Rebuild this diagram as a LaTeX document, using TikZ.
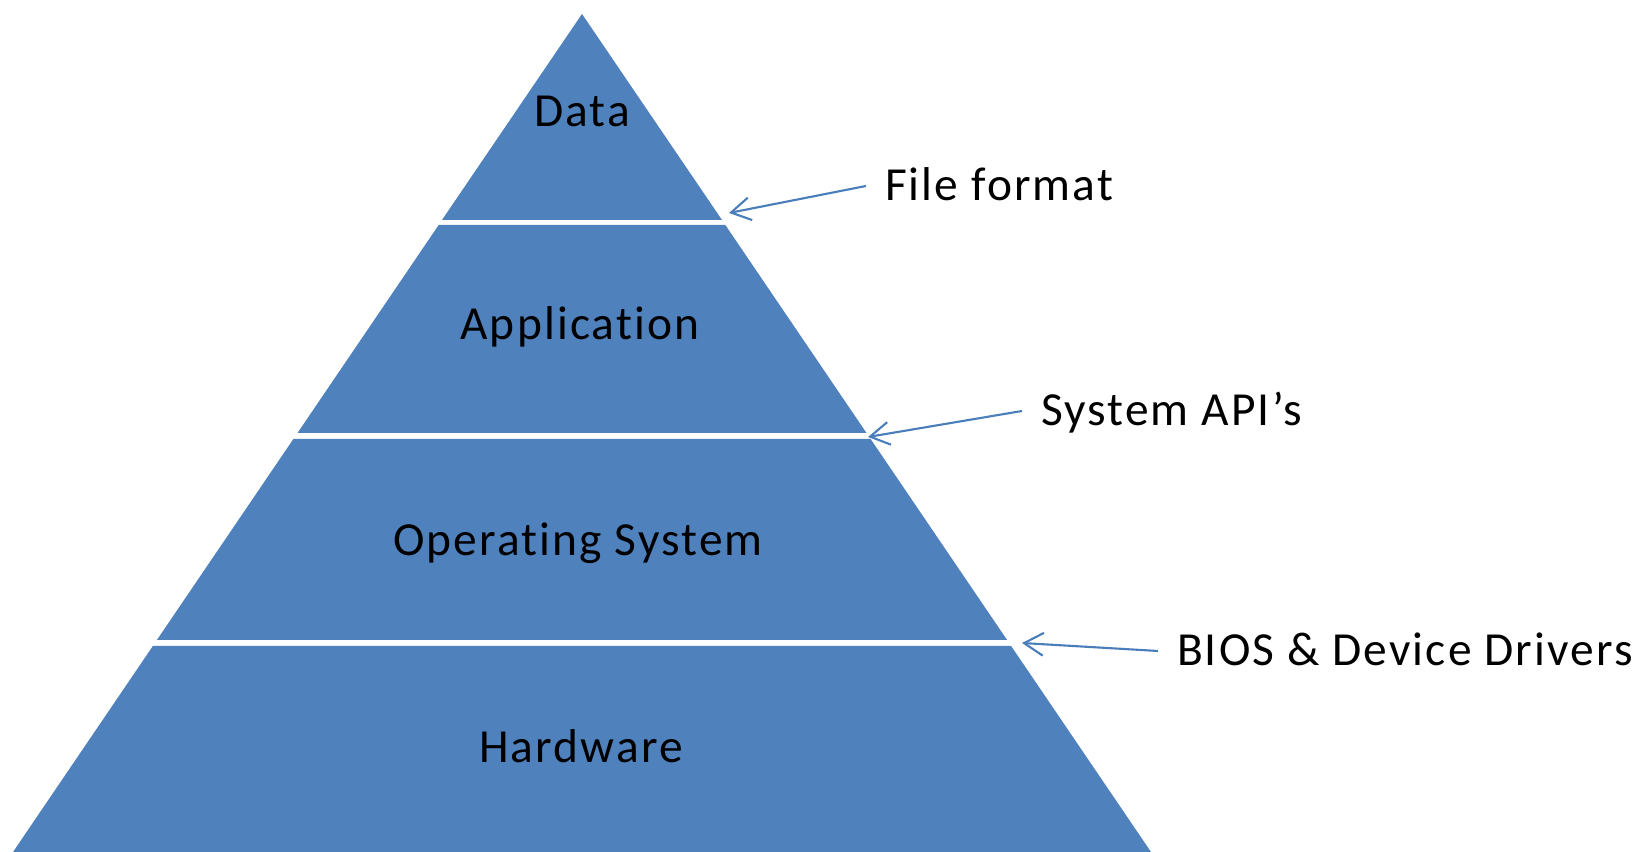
\documentclass[tikz,border=0pt]{standalone}
\usepackage{fontspec}
\setmainfont{Carlito}[Ligatures=NoCommon, LetterSpace=4.5]
\usepackage{xcolor}
\usepackage{tikz}
\usetikzlibrary{arrows.meta}
\definecolor{layerblue}{HTML}{4F81BD}
\definecolor{pointerblue}{HTML}{4A7EBB}

\begin{document}
\begin{tikzpicture}[
    layer/.style={fill=layerblue, draw=none},
    lbl/.style={font=\fontsize{13.5}{16}\selectfont, text=black, text height=0.30cm, text depth=0pt, inner ysep=0pt, inner xsep=0.19cm, outer sep=0pt},
    pointer/.style={draw=pointerblue, line width=0.6pt, -{Straight Barb[length=5.5pt, width=6.5pt]}}
]
\useasboundingbox (0,0) rectangle (16.39,8.52);

% Define the layers of the pyramid
\fill[layer] (5.82,8.38) -- (7.22,6.32) -- (4.42,6.32) -- cycle;
\fill[layer] (4.387,6.27) -- (7.253,6.27) -- (8.665,4.19) -- (2.975,4.19) -- cycle;
\fill[layer] (2.934,4.13) -- (8.706,4.13) -- (10.071,2.12) -- (1.569,2.12) -- cycle;
\fill[layer] (1.529,2.06) -- (10.111,2.06) -- (11.51,0) -- (0.13,0) -- cycle;

% Add the names of the layers
\node[lbl] (data) at (5.82,7.40) {Data};
\node[lbl] (app) at (5.80,5.27) {Application};
\node[lbl] (os) at (5.78,3.11) {Operating System};
\node[lbl] (hw) at (5.81,1.04) {Hardware};

% Add the interfaces between the layers
\node[lbl, anchor=west] (fileformat) at (8.66,6.66) {File format};
\node[lbl, anchor=west] (sysapi) at (10.22,4.41) {System API’s};
\node[lbl, anchor=west] (bios) at (11.58,2.01) {BIOS \& Device Drivers};

\coordinate (fileformat end) at (7.29,6.39);
\coordinate (sysapi end) at (8.68,4.15);
\coordinate (bios end) at (10.22,2.09);

\draw[pointer] (fileformat.west) -- (fileformat end);
\draw[pointer] (sysapi.west) -- (sysapi end);
\draw[pointer] (bios.west) -- (bios end);
\end{tikzpicture}
\end{document}
